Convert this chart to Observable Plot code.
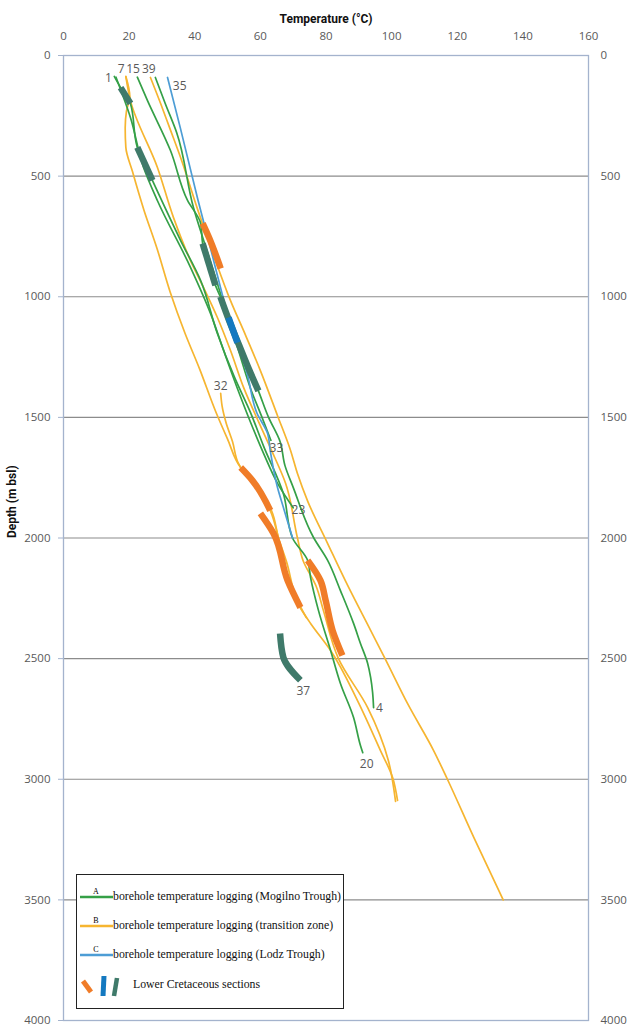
<!DOCTYPE html>
<html><head><meta charset="utf-8">
<script src="https://cdn.jsdelivr.net/npm/d3@7"></script>
<script src="https://cdn.jsdelivr.net/npm/@observablehq/plot@0.6"></script>
<style>
body{margin:0;background:#fff;}
#wrap{position:relative;width:630px;height:1028px;}
#legend{position:absolute;left:76px;top:874px;width:268px;height:135px;border:1.5px solid #222;background:#fff;box-sizing:border-box;font-family:"Liberation Serif","Times New Roman",serif;font-size:11.8px;color:#111;}
.lrow{position:absolute;left:0;height:20px;}
.lrow svg{position:absolute;left:0;top:0;}
.lrow span{position:absolute;left:36px;top:2px;white-space:nowrap;}
</style></head><body><div id="wrap"><div id="chart"></div>
<div id="legend">
 <div class="lrow" style="top:12px"><svg width="40" height="20"><text x="19" y="7" font-size="8" text-anchor="middle" font-family="Liberation Serif">A</text><line x1="3" x2="36" y1="10" y2="10" stroke="#35a047" stroke-width="2.4"/></svg><span>borehole temperature logging (Mogilno Trough)</span></div>
 <div class="lrow" style="top:41px"><svg width="40" height="20"><text x="19" y="7" font-size="8" text-anchor="middle" font-family="Liberation Serif">B</text><line x1="3" x2="36" y1="10" y2="10" stroke="#f6b530" stroke-width="2.4"/></svg><span>borehole temperature logging (transition zone)</span></div>
 <div class="lrow" style="top:70px"><svg width="40" height="20"><text x="19" y="7" font-size="8" text-anchor="middle" font-family="Liberation Serif">C</text><line x1="3" x2="36" y1="10" y2="10" stroke="#4d9dd5" stroke-width="2.4"/></svg><span>borehole temperature logging (Lodz Trough)</span></div>
 <div class="lrow" style="top:99px;width:260px"><svg width="60" height="26"><line x1="6" y1="7" x2="14" y2="18" stroke="#f07c28" stroke-width="5"/><line x1="27" y1="2" x2="26" y2="22" stroke="#1479c0" stroke-width="5"/><line x1="40" y1="4" x2="37" y2="22" stroke="#3f7a6a" stroke-width="4.5"/></svg><span style="left:56px;top:3px">Lower Cretaceous sections</span></div>
</div></div>
<script>
// axis ticks
const tempTicks = [0, 20, 40, 60, 80, 100, 120, 140, 160];
const depthTicks = [0, 500, 1000, 1500, 2000, 2500, 3000, 3500, 4000];
const gridDepths = [500, 1000, 1500, 2000, 2500, 3000, 3500];

// Mogilno Trough (green) boreholes: temperature (°C) and depth (m)
const g1_T = [15.5, 17.4, 20.4, 22.5, 27.1, 35.7, 41.8, 46.9, 52, 57, 61, 67, 69.8, 74.4, 75.3, 77.7, 81.4, 84.4, 88.4, 90.5, 91.2];
const g1_D = [87, 133, 199, 381, 518, 767, 933, 1152, 1330, 1480, 1620, 1816, 2000, 2093, 2164, 2300, 2466, 2603, 2744, 2860, 2890];
const g15_T = [22.5, 25.6, 32.6, 37.8, 41.8, 42.4, 46.3, 47.8, 53.5, 59.4, 62.5, 66, 67.5, 70, 76.2, 80.5, 84.4, 88.4, 90.5, 92.7, 93.6, 94.2, 94.5];
const g15_D = [90, 187, 394, 601, 696, 779, 953, 1000, 1200, 1390, 1500, 1600, 1700, 1790, 1998, 2093, 2218, 2354, 2437, 2520, 2578, 2640, 2703];
const g39_T = [28, 31, 34.5, 39.6, 43.5, 47, 50, 53.5, 57, 60.5, 63.2];
const g39_D = [91, 199, 320, 630, 800, 950, 1080, 1230, 1380, 1500, 1595];
const g7_T = [16, 20.4, 24.4, 28.6, 38.7, 44.8, 48.8, 53, 57, 61, 65.5, 70];
const g7_D = [90, 257, 464, 601, 878, 1069, 1223, 1380, 1520, 1650, 1780, 1875];

// transition zone (yellow) boreholes
const yA_T = [19, 20.2, 19.2, 18.8, 19, 21, 24.5, 28.5, 32.5, 37, 41.5, 46.5, 50, 54, 57.6, 63, 65.5, 68.3, 72.2, 75.3, 81.4, 89.6, 96.6, 100.3, 101.8];
const yA_D = [87, 170, 230, 300, 381, 480, 640, 800, 980, 1150, 1300, 1480, 1590, 1708, 1762, 1886, 2000, 2176, 2290, 2354, 2466, 2674, 2881, 2993, 3088];
const yB_T = [19, 20.4, 28.6, 33.5, 38.7, 42.7, 46.9, 50.9, 55, 59.5, 63.5, 67.7, 71.3, 73, 77, 79.2, 83.8, 92.7, 99, 101.2];
const yB_D = [87, 187, 463, 671, 850, 962, 1086, 1223, 1380, 1520, 1640, 1774, 2000, 2093, 2200, 2300, 2500, 2703, 2922, 3092];
const y32_T = [47.9, 48.3, 49.5, 51.5, 53.3, 54.5, 58, 63.5, 65.5, 68, 71, 74];
const y32_D = [1400, 1450, 1520, 1600, 1691, 1720, 1770, 1890, 1998, 2100, 2250, 2330];
const yR_T = [26.5, 29.6, 32.3, 36, 41, 45.8, 50.9, 55.5, 60, 65.2, 69.2, 71.3, 74.5, 80.4, 86, 93.6, 98, 105, 112.8, 117, 125, 134];
const yR_D = [91, 199, 298, 435, 643, 830, 1016, 1160, 1306, 1492, 1637, 1733, 1850, 2020, 2180, 2383, 2500, 2690, 2881, 3000, 3240, 3500];

// Lodz Trough (blue) borehole
const b35_T = [31.7, 35.6, 41, 45.2, 48, 50.3, 53, 56, 59, 62.2, 63, 65.2, 67, 69.8];
const b35_D = [91, 300, 600, 820, 970, 1086, 1190, 1320, 1484, 1567, 1637, 1790, 1873, 2000];

// Lower Cretaceous sections
const o1_T = [42.4, 44.5, 46.5, 47.9], o1_D = [696, 760, 830, 883];
const o2_T = [54, 57.6, 63], o2_D = [1708, 1762, 1886];
const o3_T = [60, 64, 68.3, 72.2], o3_D = [1898, 1981, 2176, 2288];
const o4_T = [74.4, 78.3, 79.9, 82, 85], o4_D = [2093, 2176, 2259, 2383, 2487];
const d1_T = [17.4, 20.4], d1_D = [133, 199];
const d2_T = [22.5, 27.1], d2_D = [381, 518];
const d3_T = [42.4, 46.3], d3_D = [779, 953];
const d4_T = [47.8, 50.5, 53.5, 56.5, 59.4], d4_D = [1000, 1100, 1200, 1300, 1390];
const d37_T = [66, 67, 72.2], d37_D = [2396, 2495, 2590];
const bs_T = [50.3, 53], bs_D = [1086, 1190];

// borehole labels
const labelText = ["1", "7", "15", "39", "35", "32", "33", "23", "37", "4", "20"];
const labelT = [13.7, 17.6, 21.2, 26.0, 35.4, 47.9, 64.9, 71.6, 73.1, 96.3, 92.4];
const labelD = [95, 58, 58, 58, 128, 1372, 1629, 1886, 2636, 2707, 2939];

function rows(id, T, D) { return T.map((t, i) => ({id, T: t, D: D[i]})); }
const green = [...rows("1", g1_T, g1_D), ...rows("15", g15_T, g15_D), ...rows("39", g39_T, g39_D), ...rows("7g", g7_T, g7_D)];
const yellow = [...rows("A", yA_T, yA_D), ...rows("B", yB_T, yB_D), ...rows("32", y32_T, y32_D), ...rows("R", yR_T, yR_D)];
const blue = rows("35", b35_T, b35_D);
const orangeSec = [...rows("o1", o1_T, o1_D), ...rows("o2", o2_T, o2_D), ...rows("o3", o3_T, o3_D), ...rows("o4", o4_T, o4_D)];
const darkSec = [...rows("d1", d1_T, d1_D), ...rows("d2", d2_T, d2_D), ...rows("d3", d3_T, d3_D), ...rows("d4", d4_T, d4_D), ...rows("d37", d37_T, d37_D)];
const blueSec = rows("bs", bs_T, bs_D);
const labels = labelText.map((t, i) => ({t, T: labelT[i], D: labelD[i]}));

const thin = {x: "T", y: "D", z: "id", strokeWidth: 1.7, curve: "monotone-y"};
const thick = {x: "T", y: "D", z: "id", strokeWidth: 6.5, curve: "monotone-y", strokeLinecap: "butt"};
const fmt = d => String(d);

const chart = Plot.plot({
  width: 630, height: 1028,
  marginTop: 55, marginBottom: 8, marginLeft: 63, marginRight: 42,
  style: {fontFamily: "'Open Sans', sans-serif", fontSize: "11.5px", background: "#fff"},
  x: {domain: [0, 160]},
  y: {domain: [0, 4000], reverse: true},
  marks: [
    Plot.ruleY(gridDepths, {stroke: "#8c8c8c", strokeWidth: 1.2}),
    Plot.frame({stroke: "#a4b3cd", strokeWidth: 1.3}),
    Plot.line(yellow, {...thin, stroke: "#f6b530"}),
    Plot.line(green, {...thin, stroke: "#35a047"}),
    Plot.line(blue, {...thin, stroke: "#4d9dd5"}),
    Plot.line(orangeSec, {...thick, stroke: "#f07c28"}),
    Plot.line(darkSec, {...thick, stroke: "#3f7a6a"}),
    Plot.line(blueSec, {...thick, stroke: "#1479c0"}),
    Plot.text(labels, {x: "T", y: "D", text: "t", fill: "#595959", fontSize: 12, fontFamily: "'Open Sans', sans-serif"}),
    Plot.axisX(tempTicks, {anchor: "top", tickSize: 0, tickPadding: 16, label: null, fill: "#595959", tickFormat: fmt}),
    Plot.axisY(depthTicks, {anchor: "left", tickSize: 5, tickPadding: 8, label: null, fill: "#595959", stroke: "#a4b3cd", tickFormat: fmt}),
    Plot.axisY(depthTicks, {anchor: "right", tickSize: 0, tickPadding: 12, label: null, fill: "#595959", tickFormat: fmt}),
    Plot.text(["Temperature (°C)"], {frameAnchor: "top", dy: -41, text: d => d, fontWeight: "bold", fontSize: 12, fill: "#111", fontFamily: "Roboto, sans-serif"}),
    Plot.text(["Depth (m bsl)"], {frameAnchor: "left", dx: -51, rotate: -90, text: d => d, fontWeight: "bold", fontSize: 12, fill: "#111", fontFamily: "Roboto, sans-serif"})
  ]
});
document.getElementById("chart").appendChild(chart);
</script></body></html>
